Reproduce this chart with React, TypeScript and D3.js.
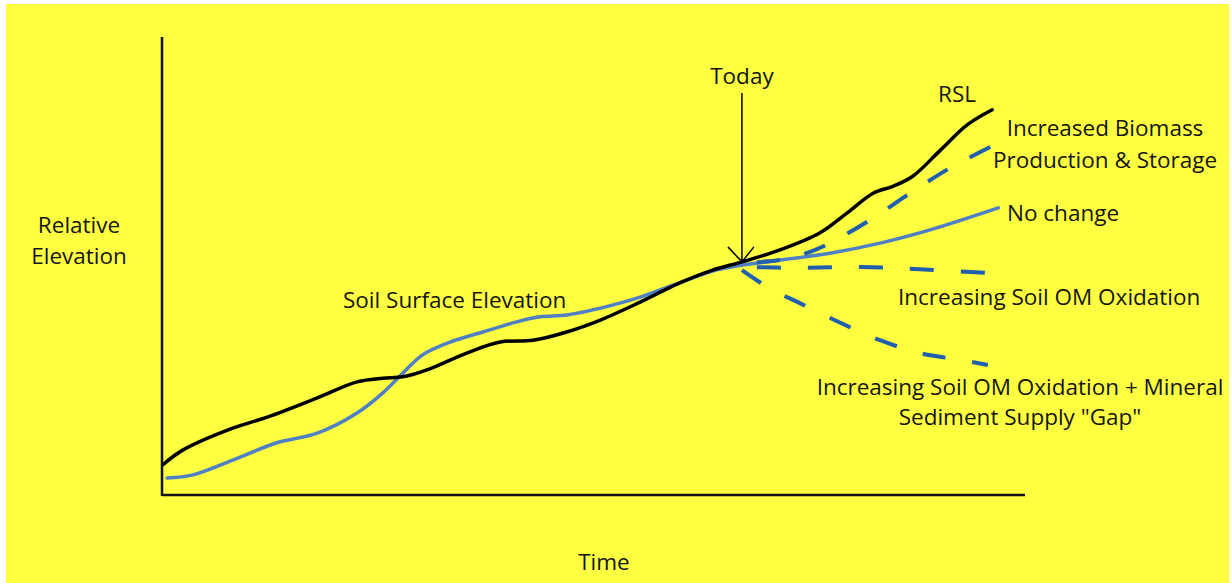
import React from "react";
import * as d3 from "d3";

// Time (0-100) vs relative elevation (0-100)
const rslTime = [0.1, 2.4, 8.2, 12.2, 18.0, 22.6, 25.6, 27.9, 30.7, 35.3, 39.2, 43.0, 46.9, 50.8, 55.4, 60.0, 63.8, 67.2, 71.6, 76.2, 79.4, 82.4, 84.7, 87.0, 90.2, 93.3, 96.2];
const rslElev = [6.6, 9.8, 14.6, 17.0, 21.2, 24.7, 25.5, 25.8, 27.3, 31.0, 33.4, 33.8, 35.6, 38.2, 42.1, 46.3, 49.1, 50.9, 53.5, 57.2, 61.6, 65.9, 67.4, 69.6, 75.3, 80.8, 84.1];

const soilTime = [0.6, 3.6, 8.2, 13.3, 18.0, 22.6, 25.6, 27.9, 30.2, 33.4, 37.2, 41.1, 43.8, 46.9, 50.8, 55.4, 61.2, 63.8, 67.2];
const soilElev = [3.7, 4.4, 7.6, 11.4, 13.5, 17.9, 22.3, 26.6, 30.6, 33.4, 35.6, 37.8, 38.9, 39.3, 40.8, 43.2, 47.2, 48.9, 50.2];

const noChangeTime = [67.2, 71.6, 77.4, 83.2, 89.0, 96.9];
const noChangeElev = [50.2, 51.3, 52.8, 55.0, 57.9, 62.7];

const biomassTime = [67.2, 71.6, 75.1, 77.4, 82.0, 86.7, 91.3, 96.2];
const biomassElev = [50.7, 51.3, 53.1, 55.0, 60.0, 65.9, 71.4, 76.2];

const oxidationTime = [67.2, 73.9, 80.9, 87.8, 95.6];
const oxidationElev = [49.8, 49.6, 49.8, 49.3, 48.5];

const gapTime = [67.2, 70.5, 73.9, 78.6, 83.2, 87.8, 92.5, 95.7];
const gapElev = [49.1, 45.0, 41.9, 37.6, 33.8, 31.0, 29.5, 28.4];

const todayTime = 67.2;
const todayArrowTop = 87.8;
const todayArrowTip = 50.9;

const W = 1231;
const H = 583;
const FONT = "'Open Sans', sans-serif";
const FONT_SIZE = 22.5;
const TEXT_COLOR = "#151515";
const BLUE_SOLID = "#4f7fc4";
const BLUE_DASH = "#1f5fae";

export default function App() {
  const x = d3.scaleLinear().domain([0, 100]).range([162, 1025]);
  const y = d3.scaleLinear().domain([0, 100]).range([495, 37]);

  const line = d3
    .line<[number, number]>()
    .x((d) => x(d[0]))
    .y((d) => y(d[1]))
    .curve(d3.curveCatmullRom.alpha(0.5));

  const pts = (t: number[], e: number[]) => t.map((v, i) => [v, e[i]] as [number, number]);

  const tx = x(todayTime);
  const tipY = y(todayArrowTip);

  const txt = (s: string, px: number, py: number, anchor: string = "start") => (
    <text x={px} y={py} textAnchor={anchor} fontFamily={FONT} fontSize={FONT_SIZE} fill={TEXT_COLOR}>
      {s}
    </text>
  );

  const dashed = [
    { p: pts(biomassTime, biomassElev), dash: "23 25", off: 33 },
    { p: pts(oxidationTime, oxidationElev), dash: "24 27", off: 36 },
    { p: pts(gapTime, gapElev), dash: "23 27", off: 0 },
  ];

  return (
    <svg width={W} height={H} style={{ position: "absolute", left: 0, top: 0 }}>
      <rect x={0} y={0} width={W} height={H} fill="#ffffff" />
      <rect x={6} y={4} width={1223} height={579} fill="#ffff42" />

      {/* axes */}
      <line x1={x(0)} x2={x(0)} y1={y(100)} y2={y(0) + 1} stroke="#111" strokeWidth={2.5} />
      <line x1={x(0)} x2={x(100)} y1={y(0)} y2={y(0)} stroke="#111" strokeWidth={2.5} />

      {/* soil surface (historic) + no change */}
      <path d={line(pts(soilTime, soilElev)) || ""} fill="none" stroke={BLUE_SOLID} strokeWidth={3.5} strokeLinecap="round" />
      <path d={line(pts(noChangeTime, noChangeElev)) || ""} fill="none" stroke={BLUE_SOLID} strokeWidth={3.5} strokeLinecap="round" />

      {/* RSL */}
      <path d={line(pts(rslTime, rslElev)) || ""} fill="none" stroke="#000" strokeWidth={3.5} strokeLinecap="round" />

      {/* scenarios */}
      {dashed.map((d, i) => (
        <path key={i} d={line(d.p) || ""} fill="none" stroke={BLUE_DASH} strokeWidth={4} strokeDasharray={d.dash} strokeDashoffset={d.off} />
      ))}

      {/* Today arrow */}
      <line x1={tx} x2={tx} y1={y(todayArrowTop)} y2={tipY} stroke="#000" strokeWidth={1.5} />
      <polyline
        points={`${tx - 14},${tipY - 15} ${tx},${tipY} ${tx + 12},${tipY - 15}`}
        fill="none"
        stroke="#000"
        strokeWidth={1.5}
      />

      {txt("Today", tx, 84, "middle")}
      {txt("RSL", 957, 102, "middle")}
      {txt("Increased Biomass", 1105, 136, "middle")}
      {txt("Production & Storage", 1105, 168, "middle")}
      {txt("No change", 1007, 221)}
      {txt("Increasing Soil OM Oxidation", 898, 305)}
      {txt("Soil Surface Elevation", 343, 308)}
      {txt("Increasing Soil OM Oxidation + Mineral", 1020, 395, "middle")}
      {txt('Sediment Supply "Gap"', 1020, 425, "middle")}
      {txt("Relative", 79, 233, "middle")}
      {txt("Elevation", 79, 264, "middle")}
      {txt("Time", 604, 570, "middle")}
    </svg>
  );
}
